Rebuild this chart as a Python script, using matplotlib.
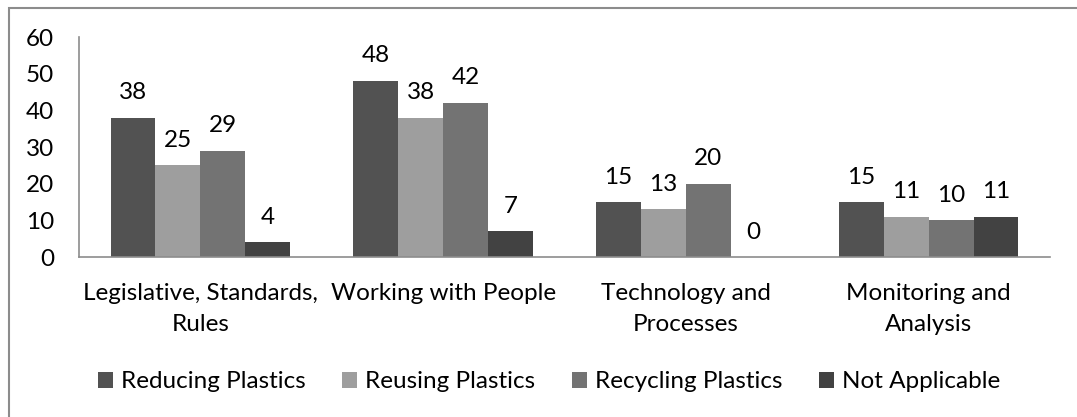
import matplotlib.pyplot as plt
import numpy as np
from matplotlib.patches import Rectangle

plt.rcParams['font.family'] = ['Lato', 'DejaVu Sans']

categories = ["Legislative, Standards,\nRules", "Working with People",
              "Technology and\nProcesses", "Monitoring and\nAnalysis"]
series = ["Reducing Plastics", "Reusing Plastics", "Recycling Plastics", "Not Applicable"]
reducing = [38, 48, 15, 15]
reusing = [25, 38, 13, 11]
recycling = [29, 42, 20, 10]
not_applicable = [4, 7, 0, 11]
colors = ["#525252", "#9e9e9e", "#737373", "#424242"]

fs = 17.5
fig = plt.figure(figsize=(10.77, 4.17), dpi=100)
ax = fig.add_axes([79/1077, 1 - 257/417, (1050-79)/1077, (257-37)/417])

x = np.arange(len(categories))
w = 0.185
for i, (vals, name) in enumerate(zip([reducing, reusing, recycling, not_applicable], series)):
    pos = x + (i - 1.5) * w
    bars = ax.bar(pos, vals, w, color=colors[i], label=name)
    for b, v in zip(bars, vals):
        ax.annotate(str(v), (b.get_x() + b.get_width() / 2, v), xytext=(0, 18),
                    textcoords="offset points", ha="center", va="center", fontsize=fs)

ax.set_xlim(-0.5, 3.5)
ax.set_ylim(0, 60)
ax.set_yticks(range(0, 61, 10))
ax.set_xticks(x)
ax.set_xticklabels(categories, fontsize=fs, linespacing=1.55)
ax.tick_params(axis='y', labelsize=fs, length=0, pad=18)
ax.tick_params(axis='x', length=0, pad=19)
for s in ['top', 'right']:
    ax.spines[s].set_visible(False)
for s in ['left', 'bottom']:
    ax.spines[s].set_color('#8c8c8c')
    ax.spines[s].set_linewidth(1.2)

fig.legend(loc='center', bbox_to_anchor=(549/1077, 1 - 382/417), ncol=4, frameon=False,
           fontsize=fs, handlelength=0.62, handleheight=0.62, handletextpad=0.33,
           columnspacing=1.5, borderpad=0)

# outer chart border (top and left visible)
fig.add_artist(Rectangle((9/1077, -0.1), 1.2, 1 - 8/417 + 0.1, transform=fig.transFigure,
                         fill=False, edgecolor='#8c8c8c', linewidth=1.5))

fig.savefig('out.png', dpi=100)
